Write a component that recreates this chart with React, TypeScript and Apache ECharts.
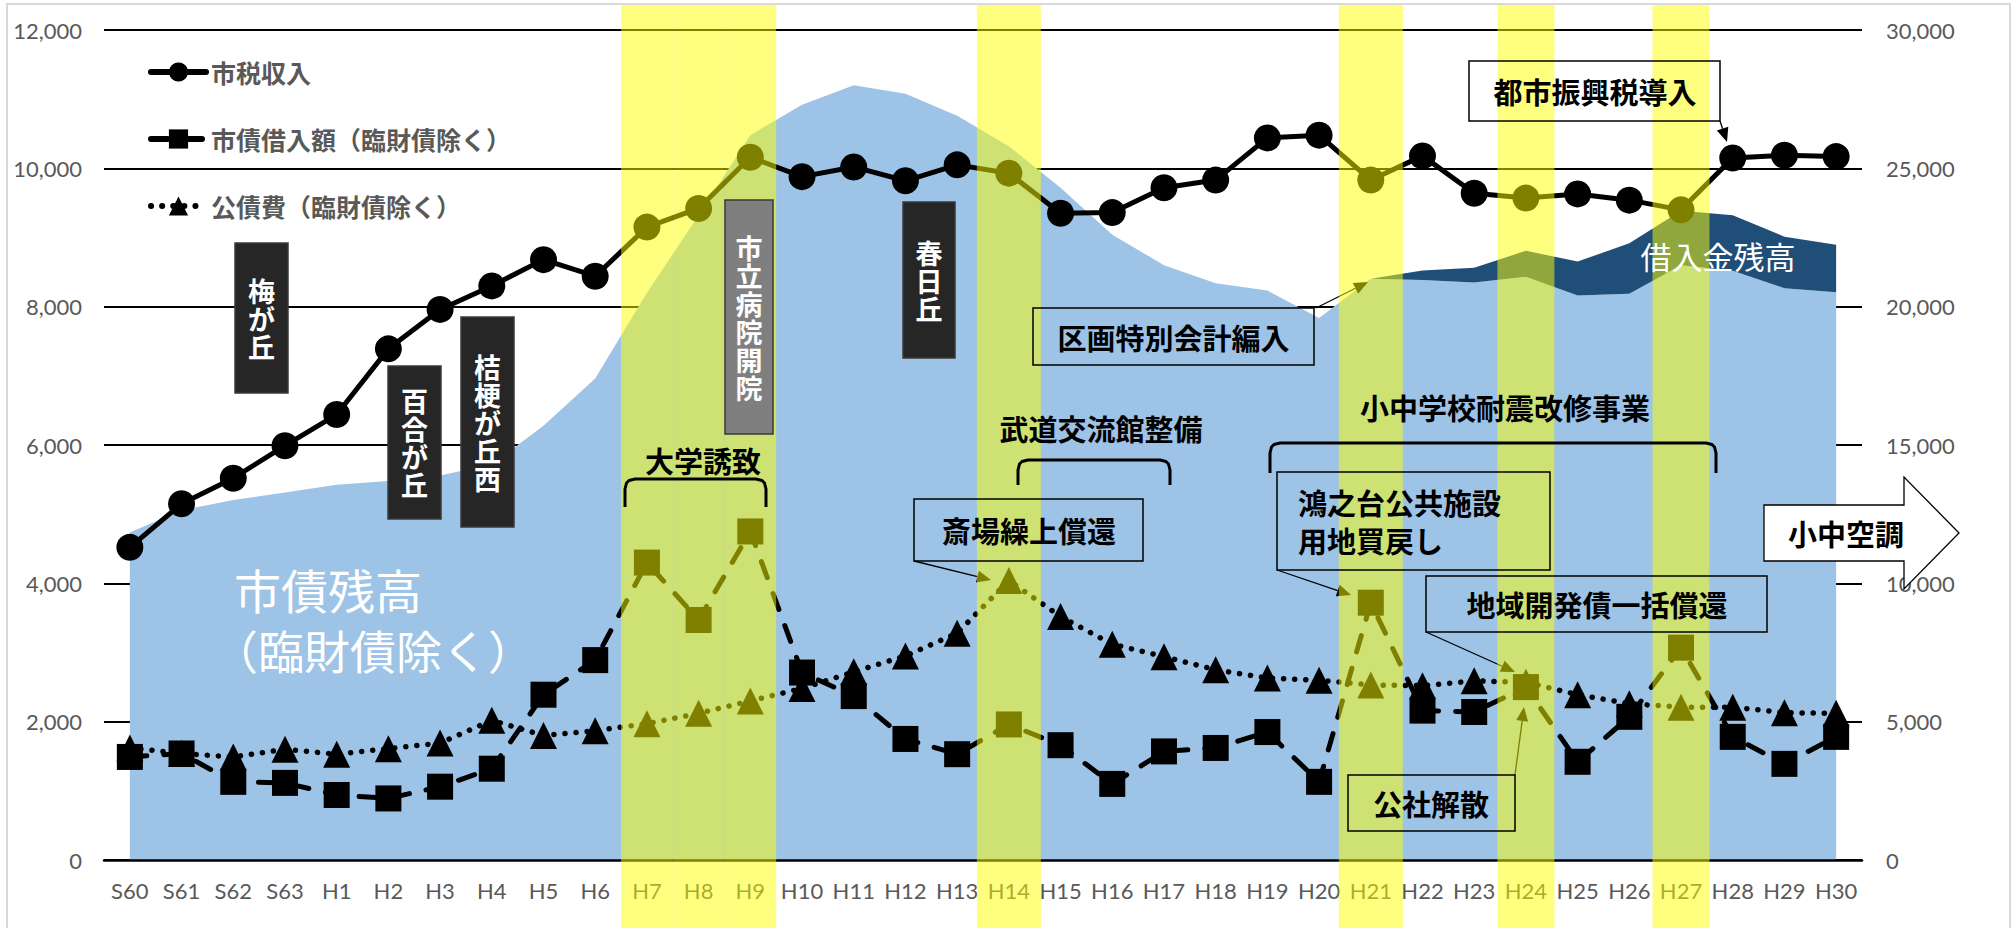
import React, { useEffect, useRef } from 'react';
import * as echarts from 'echarts';

const categories = [
  'S60', 'S61', 'S62', 'S63', 'H1', 'H2', 'H3', 'H4', 'H5', 'H6', 'H7', 'H8', 'H9', 'H10', 'H11', 'H12', 'H13',
  'H14', 'H15', 'H16', 'H17', 'H18', 'H19', 'H20', 'H21', 'H22', 'H23', 'H24', 'H25', 'H26', 'H27', 'H28', 'H29', 'H30',
];

// 市税収入 (left axis)
const taxRevenue = [
  4520, 5150, 5520, 5990, 6440, 7390, 7960, 8300, 8680, 8440, 9150, 9420, 10160, 9880, 10020, 9820, 10050,
  9930, 9350, 9360, 9720, 9830, 10440, 10480, 9830, 10180, 9640, 9570, 9630, 9540, 9400, 10150, 10190, 10170,
];

// 市債借入額（臨財債除く） (left axis)
const borrowing = [
  1490, 1540, 1130, 1115, 940, 890, 1060, 1320, 2390, 2890, 4300, 3470, 4750, 2710, 2370, 1750, 1530,
  1960, 1660, 1100, 1570, 1620, 1850, 1130, 3720, 2160, 2140, 2500, 1420, 2070, 3070, 1780, 1390, 1780,
];

// 公債費（臨財債除く） (left axis)
const debtService = [
  1620, 1540, 1490, 1600, 1530, 1610, 1690, 2020, 1800, 1870, 1970, 2120, 2300, 2480, 2720, 2950, 3280,
  4040, 3520, 3120, 2940, 2750, 2630, 2600, 2530, 2520, 2590, 2570, 2390, 2260, 2210, 2210, 2130, 2120,
];

// 市債残高（臨財債除く） (right axis)
const debtBalance = [
  11840, 12640, 13010, 13280, 13560, 13700, 13900, 14300, 15700, 17400, 20500, 23300, 26200, 27300, 28000, 27700, 26900,
  25800, 24300, 22600, 21500, 20850, 20580, 19590, 21010, 20960, 20870, 21080, 20400, 20470, 21500, 21300, 20670, 20520,
];

// 借入金残高 (right axis, stacked on 市債残高)
const loanBalance = [
  null, null, null, null, null, null, null, null, null, null, null, null, null, null, null, null, null,
  null, null, null, null, null, null, null, 0, 350, 540, 940, 1230, 1820, 1970, 2000, 1860, 1720,
];

// highlighted years (yellow bands)
const bandMultiYear = ['H7', 'H8', 'H9'];
const bandWide = ['H14', 'H21'];
const bandNarrow = ['H24', 'H27'];

const leftAxis = { min: 0, max: 12000, interval: 2000 };
const rightAxis = { min: 0, max: 30000, interval: 5000 };

const CJK = '"Noto Sans CJK JP", "Noto Sans CJK SC", sans-serif';
const NUM = 'Lato, "Liberation Sans", sans-serif';
const GRAY = '#595959';
const YELLOW = 'rgba(255,255,0,0.5)';

const fmt = (v: number) => v.toLocaleString('en-US');

function txt(text: string, x: number, y: number, extra: any = {}) {
  const align = extra.align || 'center';
  return {
    type: 'text',
    z: 11,
    silent: true,
    style: {
      text,
      x,
      y,
      fill: '#000',
      fontSize: 29,
      fontWeight: 'bold',
      fontFamily: CJK,
      align,
      textAlign: align,
      verticalAlign: 'middle',
      textVerticalAlign: 'middle',
      ...extra,
    },
  };
}

function box(x: number, y: number, w: number, h: number, fill: any = null, stroke = '#000', z = 10) {
  return {
    type: 'rect',
    z,
    silent: true,
    shape: { x, y, width: w, height: h },
    style: { fill: fill || 'none', stroke, lineWidth: 1.5 },
  };
}

function arrow(x1: number, y1: number, x2: number, y2: number) {
  const ang = Math.atan2(y2 - y1, x2 - x1);
  const L = 14;
  const W = 6;
  const bx = x2 - L * Math.cos(ang);
  const by = y2 - L * Math.sin(ang);
  const px = -Math.sin(ang) * W;
  const py = Math.cos(ang) * W;
  return [
    { type: 'line', z: 2.8, silent: true, shape: { x1, y1, x2: bx, y2: by }, style: { stroke: '#000', lineWidth: 1.3 } },
    {
      type: 'polygon',
      z: 2.8,
      silent: true,
      shape: { points: [[x2, y2], [bx + px, by + py], [bx - px, by - py]] },
      style: { fill: '#000' },
    },
  ];
}

function bracket(x0: number, x1: number, yt: number, yb: number) {
  const r = 10;
  return {
    type: 'polyline',
    z: 10,
    silent: true,
    shape: {
      points: [
        [x0, yb], [x0, yt + r], [x0 + 1.5, yt + 4], [x0 + 4, yt + 1.5], [x0 + r, yt],
        [x1 - r, yt], [x1 - 4, yt + 1.5], [x1 - 1.5, yt + 4], [x1, yt + r], [x1, yb],
      ],
    },
    style: { stroke: '#000', lineWidth: 3, fill: null, lineJoin: 'round' },
  };
}

function vbox(label: string, x: number, y: number, w: number, h: number, fill: string) {
  return [
    box(x, y, w, h, fill, '#3a3a3a'),
    txt(label.split('').join('\n'), x + w / 2, y + h / 2, {
      fill: '#fff',
      fontSize: 27,
      lineHeight: 28,
      fontWeight: 'bold',
    }),
  ];
}

const graphics: any[] = [
  // chart frame
  { type: 'rect', z: 20, silent: true, shape: { x: 7, y: 4, width: 2003, height: 940 }, style: { fill: 'none', stroke: '#d9d9d9', lineWidth: 2 } },

  // big labels for area series
  txt('市債残高', 234, 588, { align: 'left', fill: '#fff', fontSize: 47, fontWeight: 'normal' }),
  txt('（臨財債除く）', 212, 649, { align: 'left', fill: '#fff', fontSize: 46, fontWeight: 'normal' }),
  txt('借入金残高', 1718, 255, { fill: '#fff', fontSize: 31, fontWeight: 'normal' }),

  // vertical boxes
  ...vbox('梅が丘', 235, 243, 53, 150, '#262626'),
  ...vbox('百合が丘', 388, 366, 53, 153, '#262626'),
  ...vbox('桔梗が丘西', 461, 317, 53, 210, '#262626'),
  ...vbox('市立病院開院', 725, 200, 48, 234, '#7f7f7f'),
  ...vbox('春日丘', 903, 202, 52, 156, '#262626'),

  // brackets with titles
  txt('大学誘致', 703, 460),
  bracket(625, 766, 479, 507),
  txt('武道交流館整備', 1101, 428),
  bracket(1018, 1170, 460, 485),
  txt('小中学校耐震改修事業', 1505, 407),
  bracket(1270, 1716, 443, 473),

  // callout boxes
  box(1033, 308, 281, 57),
  txt('区画特別会計編入', 1173.5, 336.5),
  ...arrow(1316, 308, 1368, 282),

  box(914, 499, 229, 62),
  txt('斎場繰上償還', 1029, 530),
  ...arrow(914, 561, 991, 580),

  box(1277, 472, 273, 98),
  txt('鴻之台公共施設', 1298, 502, { align: 'left' }),
  txt('用地買戻し', 1298, 540, { align: 'left' }),
  ...arrow(1277, 570, 1351, 595),

  box(1426, 576, 341, 56),
  txt('地域開発債一括償還', 1597, 604),
  ...arrow(1426, 632, 1515, 672),

  box(1348, 775, 167, 56),
  txt('公社解散', 1431, 803),
  ...arrow(1515, 775, 1524, 707),

  box(1469, 61, 251, 60),
  txt('都市振興税導入', 1595, 91),
  ...arrow(1720, 121, 1727, 142),

  // block arrow
  {
    type: 'polygon',
    z: 10,
    silent: true,
    shape: { points: [[1764, 505], [1904, 505], [1904, 477], [1959, 533], [1904, 589], [1904, 561], [1764, 561]] },
    style: { fill: '#fff', stroke: '#000', lineWidth: 1.3 },
  },
  txt('小中空調', 1846, 533),
];

const bandSeries = (name: string, years: string[], axis: number, width: any) => ({
  name,
  type: 'bar',
  xAxisIndex: axis,
  yAxisIndex: 2,
  data: categories.map((c) => (years.includes(c) ? 1 : '-')),
  barWidth: width,
  itemStyle: { color: YELLOW },
  silent: true,
  z: 3,
});

const hiddenCat = (i: number) => ({ type: 'category', data: categories, gridIndex: 1, boundaryGap: true, show: false, id: 'band' + i });

const option: any = {
  animation: false,
  backgroundColor: '#fff',
  grid: [
    { left: 104, right: 154, top: 30, bottom: 68 },
    { left: 104, right: 154, top: 5, bottom: 0 },
  ],
  legend: {
    data: ['市税収入', '市債借入額（臨財債除く）', '公債費（臨財債除く）'],
    orient: 'vertical',
    left: 148,
    top: 58,
    padding: 0,
    itemWidth: 55,
    itemHeight: 24,
    itemGap: 39,
    selectedMode: false,
    lineStyle: { width: 6, cap: 'round' },
    textStyle: { fontSize: 25, lineHeight: 28, fontWeight: 'bold', color: GRAY, fontFamily: CJK },
  },
  xAxis: [
    {
      type: 'category',
      data: categories,
      gridIndex: 0,
      boundaryGap: true,
      z: 2.5,
      axisLine: { lineStyle: { color: '#000', width: 2.5 } },
      axisTick: { show: false },
      axisLabel: { color: GRAY, fontSize: 22, fontFamily: NUM, margin: 19, interval: 0 },
    },
    hiddenCat(1),
    hiddenCat(2),
    hiddenCat(3),
  ],
  yAxis: [
    {
      type: 'value',
      gridIndex: 0,
      ...leftAxis,
      axisLine: { show: false },
      axisTick: { show: false },
      splitLine: { lineStyle: { color: '#000', width: 2 } },
      axisLabel: { formatter: fmt, color: GRAY, fontSize: 22, fontFamily: NUM, margin: 22 },
    },
    {
      type: 'value',
      gridIndex: 0,
      position: 'right',
      ...rightAxis,
      axisLine: { show: false },
      axisTick: { show: false },
      splitLine: { show: false },
      axisLabel: { formatter: fmt, color: GRAY, fontSize: 22, fontFamily: NUM, margin: 24 },
    },
    { type: 'value', gridIndex: 1, min: 0, max: 1, show: false },
  ],
  series: [
    {
      name: '市債残高',
      type: 'line',
      yAxisIndex: 1,
      stack: 'balance',
      data: debtBalance,
      symbol: 'none',
      lineStyle: { width: 0, opacity: 0 },
      areaStyle: { color: '#9DC3E6', opacity: 1 },
      silent: true,
      z: 1,
    },
    {
      name: '借入金残高',
      type: 'line',
      yAxisIndex: 1,
      stack: 'balance',
      data: loanBalance,
      symbol: 'none',
      lineStyle: { width: 0, opacity: 0 },
      areaStyle: { color: '#1F4E79', opacity: 1 },
      silent: true,
      z: 1,
    },
    {
      name: '市税収入',
      type: 'line',
      data: taxRevenue,
      symbol: 'circle',
      symbolSize: 27,
      showAllSymbol: true,
      itemStyle: { color: '#000' },
      lineStyle: { color: '#000', width: 5 },
      z: 2,
    },
    {
      name: '公債費（臨財債除く）',
      type: 'line',
      data: debtService,
      symbol: 'triangle',
      symbolSize: 27,
      showAllSymbol: true,
      itemStyle: { color: '#000' },
      lineStyle: { color: '#000', width: 5.5, type: [0.1, 11], cap: 'round' },
      z: 2,
    },
    {
      name: '市債借入額（臨財債除く）',
      type: 'line',
      data: borrowing,
      symbol: 'rect',
      symbolSize: 26,
      showAllSymbol: true,
      itemStyle: { color: '#000' },
      lineStyle: { color: '#000', width: 5, type: [17, 17], cap: 'round' },
      z: 2,
    },
    bandSeries('band-multi', bandMultiYear, 1, '100%'),
    bandSeries('band-wide', bandWide, 2, 64),
    bandSeries('band-narrow', bandNarrow, 3, 57),
  ],
  graphic: graphics,
};

export default function App() {
  const ref = useRef<HTMLDivElement>(null);
  useEffect(() => {
    if (!ref.current) return;
    const chart = echarts.init(ref.current, null, { renderer: 'svg' });
    chart.setOption(option);
    return () => chart.dispose();
  }, []);
  return (
    <div
      ref={ref}
      style={{ position: 'fixed', left: 0, top: 0, width: 2016, height: 928, background: '#fff' }}
    />
  );
}
